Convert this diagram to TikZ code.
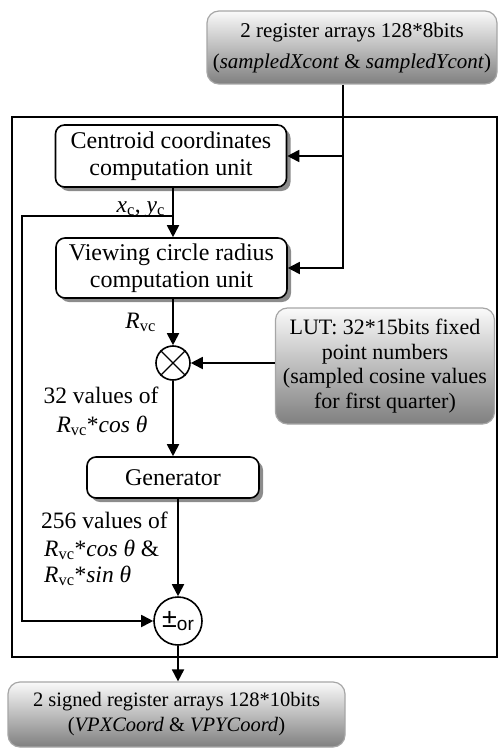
\documentclass[tikz,border=0pt]{standalone}
\usepackage{fontspec}
\setmainfont{Liberation Serif}
\newfontfamily\arialf{Liberation Sans}
\usetikzlibrary{arrows.meta,shadows,calc}
\begin{document}
\begin{tikzpicture}[x=1pt,y=-1pt]
\tikzset{
 wbox/.style={draw, line width=1.6pt, rounded corners=9pt, fill=white, align=center,
   font=\fontsize{24}{27}\selectfont, inner sep=0pt,
   drop shadow={shadow xshift=4pt, shadow yshift=-4pt, fill=black!45, opacity=1}},
 gbox/.style={draw=black!35, line width=1.2pt, rounded corners=12pt, top color=black!2,
   bottom color=black!50, align=center, inner sep=0pt},
 conn/.style={line width=1.8pt},
 arr/.style={conn, -{Triangle[length=12pt,width=12pt]}},
 lbl/.style={inner sep=0pt, font=\fontsize{23.5}{28}\selectfont},
}
\useasboundingbox (0,0) rectangle (499,749);
% frame
\node[draw, line width=1.8pt, minimum width=485pt, minimum height=540pt, inner sep=0pt] (frame) at (254.5,387) {};
% boxes
\node[gbox, minimum width=290pt, minimum height=73pt, font=\fontsize{21}{31}\selectfont] (top) at (352,47.5)
  {2 register arrays 128*8bits\\(\textit{sampledXcont} \& \textit{sampledYcont})};
\node[wbox, minimum width=231pt, minimum height=62pt] (cc) at (171,156)
  {Centroid coordinates\\computation unit};
\node[wbox, minimum width=231pt, minimum height=60pt] (vc) at (171.5,268)
  {Viewing circle radius\\computation unit};
\node[circle, draw, line width=1.6pt, minimum size=34pt, inner sep=0pt] (mx) at (173,363) {};
\draw[line width=1.4pt] (mx.north west) -- (mx.south east) (mx.north east) -- (mx.south west);
\node[gbox, minimum width=219pt, minimum height=116pt, font=\fontsize{22}{24.5}\selectfont] (lut) at (385,366)
  {LUT: 32*15bits fixed\\point numbers\\(sampled cosine values\\for first quarter)};
\node[wbox, minimum width=172pt, minimum height=41pt] (gen) at (173,477.5) {Generator};
\node[circle, draw, line width=1.6pt, minimum size=48pt, inner sep=0pt, fill=white] (pm) at (178,621)
  {\arialf\fontsize{27}{27}\selectfont ±\raisebox{-3pt}{\fontsize{19}{19}\selectfont or}};
\node[gbox, minimum width=337pt, minimum height=65pt, font=\fontsize{20.5}{25}\selectfont] (bot) at (176.5,714.5)
  {2 signed register arrays 128*10bits\\(\textit{VPXCoord} \& \textit{VPYCoord})};
% labels
\node[lbl, anchor=base east] (lxy) at (165,212) {\textit{x}\textsubscript{c}, \textit{y}\textsubscript{c}};
\node[lbl, anchor=base east] (lr) at (156,328) {\textit{R}\textsubscript{vc}};
\node[lbl, anchor=base] (l32a) at (101,403) {32 values of};
\node[lbl, anchor=base] (l32b) at (102,432) {\textit{R}\textsubscript{vc}*\textit{cos θ}};
\node[lbl, anchor=base west] (l256a) at (41,528) {256 values of};
\node[lbl, anchor=base west] (l256b) at (44,556) {\textit{R}\textsubscript{vc}*\textit{cos θ} \&};
\node[lbl, anchor=base west] (l256c) at (44,582) {\textit{R}\textsubscript{vc}*\textit{sin θ}};
% junction coordinates
\coordinate (xyj) at (173,216);
\coordinate (lft) at (22,0);
\coordinate (rj) at (343,0);
% connectors
\draw[arr] (cc.south -| xyj) -- (vc.north -| xyj);
\draw[arr] (xyj) -- (xyj -| lft) -- (lft |- pm.west) -- (pm.west);
\draw[arr] (top.south -| rj) |- (vc.east);
\draw[arr] (rj |- cc.east) -- (cc.east);
\draw[arr] (vc.south -| mx.north) -- (mx.north);
\draw[arr] (lut.west |- mx.east) -- (mx.east);
\draw[arr] (mx.south) -- (gen.north -| mx.south);
\draw[arr] (gen.south -| pm.north) -- (pm.north);
\draw[arr] (pm.south) -- (bot.north -| pm.south);
\end{tikzpicture}
\end{document}
